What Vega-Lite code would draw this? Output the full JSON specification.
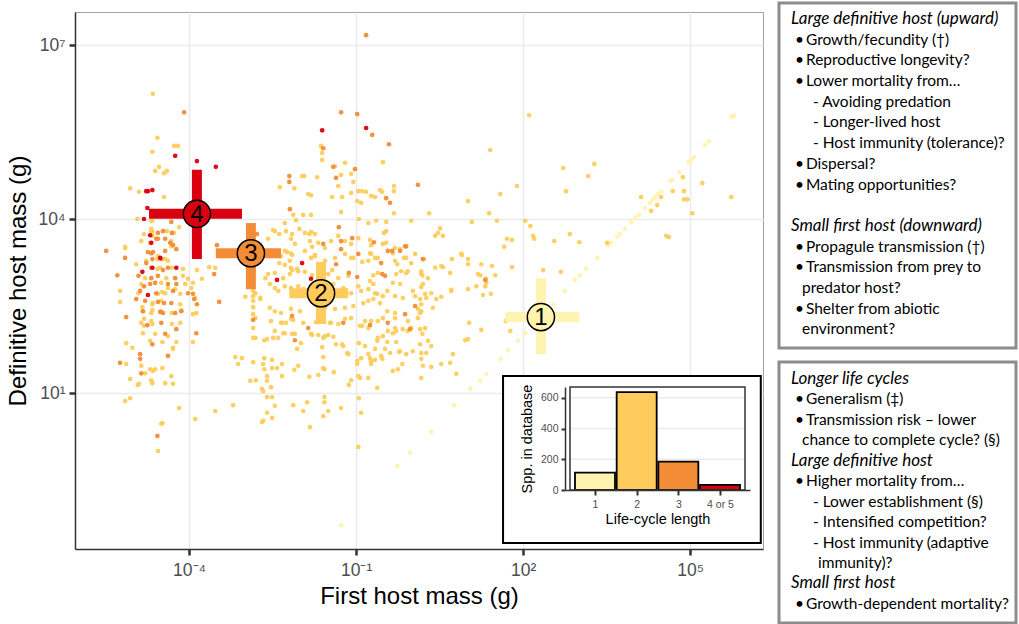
{
"$schema":"https://vega.github.io/schema/vega-lite/v6.json",
"padding":{"left":5,"top":1,"right":0,"bottom":0},
"background":"white",
"config":{"font":"Liberation Sans","view":{"stroke":null},
"axis":{"labelFont":"Liberation Sans","titleFont":"Liberation Sans","titleFontWeight":"normal","labelColor":"#4d4d4d","titleColor":"#000000","domainColor":"#333333","tickColor":"#333333","gridColor":"#ebebeb"}},
"datasets":{
"crosses":[
{"cycle":"1","num":"1","cx":2.32,"xlo":1.68,"xhi":3.01,"cy":2.31,"ylo":1.67,"yhi":2.98},
{"cycle":"2","num":"2","cx":-1.63,"xlo":-2.2,"xhi":-1.14,"cy":2.72,"ylo":2.19,"yhi":3.26},
{"cycle":"3","num":"3","cx":-2.89,"xlo":-3.52,"xhi":-2.35,"cy":3.41,"ylo":2.79,"yhi":3.93},
{"cycle":"4 or 5","num":"4","cx":-3.86,"xlo":-4.72,"xhi":-3.05,"cy":4.09,"ylo":3.31,"yhi":4.85}],
"inset_area":[{"x1":1.64,"x2":6.27,"y1":-1.586,"y2":1.293}],
"bars":[{"cycle":"1","pos":1,"n":113},{"cycle":"2","pos":2,"n":637},{"cycle":"3","pos":3,"n":184},{"cycle":"4 or 5","pos":4,"n":33}],
"igrid":[{"g":200},{"g":400},{"g":600}],
"box1":[
{"line":0,"indent":-0.1,"kind":"h","text":"Large definitive host (upward)"},
{"line":1,"indent":0.3,"kind":"b","text":"•\u2009Growth/fecundity (†)"},
{"line":2,"indent":0.3,"kind":"b","text":"•\u2009Reproductive longevity?"},
{"line":3,"indent":0.3,"kind":"b","text":"•\u2009Lower mortality from…"},
{"line":4,"indent":2.1,"kind":"d","text":"- Avoiding predation"},
{"line":5,"indent":2.1,"kind":"d","text":"- Longer-lived host"},
{"line":6,"indent":2.1,"kind":"d","text":"- Host immunity (tolerance)?"},
{"line":7,"indent":0.3,"kind":"b","text":"•\u2009Dispersal?"},
{"line":8,"indent":0.3,"kind":"b","text":"•\u2009Mating opportunities?"},
{"line":10,"indent":-0.1,"kind":"h","text":"Small first host (downward)"},
{"line":11,"indent":0.3,"kind":"b","text":"•\u2009Propagule transmission (†)"},
{"line":12,"indent":0.3,"kind":"b","text":"•\u2009Transmission from prey to"},
{"line":13,"indent":1.0,"kind":"c","text":"predator host?"},
{"line":14,"indent":0.3,"kind":"b","text":"•\u2009Shelter from abiotic"},
{"line":15,"indent":1.0,"kind":"c","text":"environment?"}],
"box2":[
{"line":0,"indent":-0.1,"kind":"h","text":"Longer life cycles"},
{"line":1,"indent":0.3,"kind":"b","text":"•\u2009Generalism (‡)"},
{"line":2,"indent":0.3,"kind":"b","text":"•\u2009Transmission risk – lower"},
{"line":3,"indent":1.0,"kind":"c","text":"chance to complete cycle? (§)"},
{"line":4,"indent":-0.1,"kind":"h","text":"Large definitive host"},
{"line":5,"indent":0.3,"kind":"b","text":"•\u2009Higher mortality from…"},
{"line":6,"indent":2.1,"kind":"d","text":"- Lower establishment (§)"},
{"line":7,"indent":2.1,"kind":"d","text":"- Intensified competition?"},
{"line":8,"indent":2.1,"kind":"d","text":"- Host immunity (adaptive"},
{"line":9,"indent":2.6,"kind":"c","text":"immunity)?"},
{"line":10,"indent":-0.1,"kind":"h","text":"Small first host"},
{"line":11,"indent":0.3,"kind":"b","text":"•\u2009Growth-dependent mortality?"}],
"points":[
{"first":2.93,"def":2.95,"cycle":"1"},{"first":3.02,"def":3.03,"cycle":"1"},{"first":3.13,"def":3.14,"cycle":"1"},{"first":3.33,"def":3.33,"cycle":"1"},{"first":3.53,"def":3.55,"cycle":"1"},{"first":3.58,"def":3.59,"cycle":"1"},{"first":3.69,"def":3.69,"cycle":"1"},{"first":3.74,"def":3.74,"cycle":"1"},{"first":3.83,"def":3.83,"cycle":"1"},{"first":3.94,"def":3.95,"cycle":"1"},{"first":4.01,"def":4.02,"cycle":"1"},{"first":4.08,"def":4.07,"cycle":"1"},{"first":4.19,"def":4.19,"cycle":"1"},{"first":4.28,"def":4.28,"cycle":"1"},{"first":4.33,"def":4.34,"cycle":"1"},{"first":4.37,"def":4.38,"cycle":"1"},{"first":4.42,"def":4.43,"cycle":"1"},{"first":4.48,"def":4.47,"cycle":"1"},{"first":4.64,"def":4.66,"cycle":"1"},{"first":4.68,"def":4.67,"cycle":"1"},{"first":4.8,"def":4.81,"cycle":"1"},{"first":4.98,"def":4.98,"cycle":"1"},{"first":5.02,"def":5.03,"cycle":"1"},{"first":5.07,"def":5.07,"cycle":"1"},{"first":5.27,"def":5.28,"cycle":"1"},{"first":5.34,"def":5.34,"cycle":"1"},{"first":5.74,"def":5.76,"cycle":"1"},{"first":5.79,"def":5.78,"cycle":"1"},{"first":2.75,"def":2.76,"cycle":"1"},{"first":2.54,"def":2.53,"cycle":"1"},{"first":2.04,"def":2.03,"cycle":"1"},{"first":1.91,"def":1.9,"cycle":"1"},{"first":1.73,"def":1.74,"cycle":"1"},{"first":1.6,"def":1.59,"cycle":"1"},{"first":1.34,"def":1.33,"cycle":"1"},{"first":1.23,"def":1.21,"cycle":"1"},{"first":1.05,"def":1.07,"cycle":"1"},{"first":0.76,"def":0.79,"cycle":"1"},{"first":0.35,"def":0.33,"cycle":"1"},{"first":-0.03,"def":-0.03,"cycle":"1"},{"first":-0.26,"def":-0.26,"cycle":"1"},{"first":-1.27,"def":-1.28,"cycle":"1"},
{"first":-4.65,"def":6.16,"cycle":"2"},{"first":-4.57,"def":5.4,"cycle":"2"},{"first":-4.27,"def":5.26,"cycle":"2"},{"first":-4.2,"def":5.26,"cycle":"2"},{"first":-4.66,"def":5.16,"cycle":"2"},{"first":-1.61,"def":5.14,"cycle":"2"},{"first":-1.61,"def":5.02,"cycle":"2"},{"first":-4.54,"def":4.9,"cycle":"2"},{"first":-4.61,"def":4.83,"cycle":"2"},{"first":-4.45,"def":4.79,"cycle":"2"},{"first":-4.4,"def":4.83,"cycle":"2"},{"first":-5.06,"def":4.53,"cycle":"2"},{"first":-4.9,"def":4.47,"cycle":"2"},{"first":-4.45,"def":4.38,"cycle":"2"},{"first":-4.93,"def":4.0,"cycle":"2"},{"first":-4.66,"def":3.97,"cycle":"2"},{"first":-1.97,"def":4.74,"cycle":"2"},{"first":-1.93,"def":4.74,"cycle":"2"},{"first":-1.7,"def":4.72,"cycle":"2"},{"first":-2.37,"def":4.55,"cycle":"2"},{"first":-2.11,"def":4.53,"cycle":"2"},{"first":-1.86,"def":4.43,"cycle":"2"},{"first":-1.81,"def":4.41,"cycle":"2"},{"first":-1.27,"def":4.76,"cycle":"2"},{"first":-1.2,"def":4.97,"cycle":"2"},{"first":-1.05,"def":4.64,"cycle":"2"},{"first":-1.32,"def":4.57,"cycle":"2"},{"first":-1.43,"def":4.38,"cycle":"2"},{"first":-1.25,"def":4.38,"cycle":"2"},{"first":-1.09,"def":4.45,"cycle":"2"},{"first":-0.96,"def":4.48,"cycle":"2"},{"first":-0.89,"def":4.48,"cycle":"2"},{"first":-0.82,"def":4.47,"cycle":"2"},{"first":-0.98,"def":4.31,"cycle":"2"},{"first":-0.91,"def":4.28,"cycle":"2"},{"first":-0.73,"def":4.4,"cycle":"2"},{"first":-0.66,"def":4.38,"cycle":"2"},{"first":-0.57,"def":4.5,"cycle":"2"},{"first":-0.53,"def":4.47,"cycle":"2"},{"first":-0.52,"def":4.98,"cycle":"2"},{"first":-0.32,"def":4.57,"cycle":"2"},{"first":-0.32,"def":4.48,"cycle":"2"},{"first":-0.32,"def":4.1,"cycle":"2"},{"first":-0.01,"def":3.97,"cycle":"2"},{"first":-1.27,"def":4.12,"cycle":"2"},{"first":-2.13,"def":4.07,"cycle":"2"},{"first":-1.95,"def":4.07,"cycle":"2"},{"first":-1.81,"def":4.07,"cycle":"2"},{"first":-2.08,"def":3.98,"cycle":"2"},{"first":-0.95,"def":4.0,"cycle":"2"},{"first":-0.46,"def":3.95,"cycle":"2"},{"first":-2.46,"def":3.79,"cycle":"2"},{"first":-2.38,"def":3.74,"cycle":"2"},{"first":-2.15,"def":3.74,"cycle":"2"},{"first":-2.02,"def":3.83,"cycle":"2"},{"first":-1.84,"def":3.74,"cycle":"2"},{"first":-1.81,"def":3.78,"cycle":"2"},{"first":-0.5,"def":3.76,"cycle":"2"},{"first":-0.75,"def":3.64,"cycle":"2"},{"first":-0.73,"def":3.55,"cycle":"2"},{"first":-0.46,"def":3.59,"cycle":"2"},{"first":-2.58,"def":3.66,"cycle":"2"},{"first":-1.79,"def":3.52,"cycle":"2"},{"first":-2.24,"def":3.43,"cycle":"2"},{"first":-2.15,"def":3.38,"cycle":"2"},{"first":-0.75,"def":3.41,"cycle":"2"},{"first":-0.61,"def":3.33,"cycle":"2"},{"first":-0.3,"def":3.28,"cycle":"2"},{"first":-0.14,"def":3.33,"cycle":"2"},{"first":-0.07,"def":3.1,"cycle":"2"},{"first":-1.05,"def":3.33,"cycle":"2"},{"first":-0.89,"def":3.26,"cycle":"2"},{"first":-1.81,"def":3.33,"cycle":"2"},{"first":-1.74,"def":3.38,"cycle":"2"},{"first":-2.38,"def":3.24,"cycle":"2"},{"first":-2.28,"def":3.21,"cycle":"2"},{"first":-2.15,"def":3.12,"cycle":"2"},{"first":-2.06,"def":3.14,"cycle":"2"},{"first":-1.92,"def":3.09,"cycle":"2"},{"first":-1.79,"def":3.03,"cycle":"2"},{"first":-1.59,"def":3.14,"cycle":"2"},{"first":-1.43,"def":3.12,"cycle":"2"},{"first":-0.69,"def":3.03,"cycle":"2"},{"first":-5.15,"def":3.52,"cycle":"2"},{"first":-4.86,"def":3.62,"cycle":"2"},{"first":-4.81,"def":3.74,"cycle":"2"},{"first":-4.68,"def":3.83,"cycle":"2"},{"first":-4.66,"def":3.78,"cycle":"2"},{"first":-4.66,"def":3.71,"cycle":"2"},{"first":-4.4,"def":3.79,"cycle":"2"},{"first":-4.27,"def":3.76,"cycle":"2"},{"first":-4.18,"def":3.86,"cycle":"2"},{"first":-4.57,"def":3.31,"cycle":"2"},{"first":-4.43,"def":3.31,"cycle":"2"},{"first":-4.57,"def":3.14,"cycle":"2"},{"first":-4.31,"def":3.16,"cycle":"2"},{"first":-3.91,"def":3.79,"cycle":"2"},{"first":-3.86,"def":3.12,"cycle":"2"},{"first":-3.77,"def":2.97,"cycle":"2"},{"first":-3.64,"def":3.17,"cycle":"2"},
{"first":2.11,"def":5.79,"cycle":"2"},{"first":1.41,"def":5.19,"cycle":"2"},{"first":2.72,"def":4.88,"cycle":"2"},{"first":3.28,"def":4.95,"cycle":"2"},{"first":3.17,"def":4.74,"cycle":"2"},{"first":2.77,"def":4.48,"cycle":"2"},{"first":1.89,"def":4.57,"cycle":"2"},{"first":1.59,"def":4.43,"cycle":"2"},{"first":1.01,"def":4.31,"cycle":"2"},{"first":0.31,"def":4.1,"cycle":"2"},{"first":1.39,"def":4.1,"cycle":"2"},{"first":1.08,"def":3.95,"cycle":"2"},{"first":1.53,"def":3.97,"cycle":"2"},{"first":2.04,"def":3.97,"cycle":"2"},{"first":2.13,"def":3.88,"cycle":"2"},{"first":0.51,"def":3.84,"cycle":"2"},{"first":0.47,"def":3.76,"cycle":"2"},{"first":0.42,"def":3.71,"cycle":"2"},{"first":0.56,"def":3.71,"cycle":"2"},{"first":2.18,"def":3.71,"cycle":"2"},{"first":2.2,"def":3.66,"cycle":"2"},{"first":1.71,"def":3.66,"cycle":"2"},{"first":1.8,"def":3.64,"cycle":"2"},{"first":1.66,"def":3.52,"cycle":"2"},{"first":2.56,"def":3.62,"cycle":"2"},{"first":2.84,"def":3.74,"cycle":"2"},{"first":3.01,"def":3.6,"cycle":"2"},{"first":3.51,"def":3.59,"cycle":"2"},{"first":4.12,"def":4.38,"cycle":"2"},{"first":4.3,"def":4.14,"cycle":"2"},{"first":4.41,"def":4.24,"cycle":"2"},{"first":4.48,"def":4.38,"cycle":"2"},{"first":4.69,"def":4.48,"cycle":"2"},{"first":4.87,"def":4.72,"cycle":"2"},{"first":4.89,"def":4.48,"cycle":"2"},{"first":4.89,"def":4.34,"cycle":"2"},{"first":4.95,"def":4.34,"cycle":"2"},{"first":5.04,"def":4.1,"cycle":"2"},{"first":5.22,"def":4.62,"cycle":"2"},{"first":5.74,"def":4.38,"cycle":"2"},{"first":4.57,"def":3.71,"cycle":"2"},{"first":4.62,"def":3.69,"cycle":"2"},{"first":0.72,"def":3.31,"cycle":"2"},{"first":0.9,"def":3.38,"cycle":"2"},{"first":1.01,"def":3.31,"cycle":"2"},{"first":1.01,"def":3.22,"cycle":"2"},{"first":0.56,"def":3.17,"cycle":"2"},{"first":0.69,"def":3.07,"cycle":"2"},{"first":1.44,"def":3.19,"cycle":"2"},{"first":1.8,"def":3.17,"cycle":"2"},{"first":1.5,"def":3.03,"cycle":"2"},{"first":1.23,"def":3.03,"cycle":"2"},{"first":2.36,"def":3.12,"cycle":"2"},{"first":2.68,"def":3.09,"cycle":"2"},{"first":0.19,"def":3.03,"cycle":"2"},
{"first":-5.24,"def":2.76,"cycle":"2"},{"first":-5.24,"def":2.57,"cycle":"2"},{"first":-5.13,"def":1.86,"cycle":"2"},{"first":-5.13,"def":1.5,"cycle":"2"},{"first":-5.06,"def":1.24,"cycle":"2"},{"first":-5.02,"def":1.78,"cycle":"2"},{"first":-4.84,"def":2.48,"cycle":"2"},{"first":-4.83,"def":2.41,"cycle":"2"},{"first":-4.81,"def":2.28,"cycle":"2"},{"first":-4.81,"def":2.16,"cycle":"2"},{"first":-4.86,"def":1.47,"cycle":"2"},{"first":-4.9,"def":1.16,"cycle":"2"},{"first":-4.92,"def":1.14,"cycle":"2"},{"first":-4.79,"def":1.34,"cycle":"2"},{"first":-4.7,"def":1.9,"cycle":"2"},{"first":-4.7,"def":1.41,"cycle":"2"},{"first":-4.65,"def":1.38,"cycle":"2"},{"first":-4.61,"def":1.41,"cycle":"2"},{"first":-4.68,"def":1.22,"cycle":"2"},{"first":-4.66,"def":1.17,"cycle":"2"},{"first":-4.66,"def":2.53,"cycle":"2"},{"first":-4.66,"def":2.43,"cycle":"2"},{"first":-4.68,"def":2.24,"cycle":"2"},{"first":-4.66,"def":2.19,"cycle":"2"},{"first":-4.56,"def":2.71,"cycle":"2"},{"first":-4.48,"def":2.74,"cycle":"2"},{"first":-4.38,"def":2.81,"cycle":"2"},{"first":-4.25,"def":2.79,"cycle":"2"},{"first":-4.31,"def":2.38,"cycle":"2"},{"first":-4.14,"def":2.43,"cycle":"2"},{"first":-4.31,"def":2.19,"cycle":"2"},{"first":-4.38,"def":1.98,"cycle":"2"},{"first":-4.23,"def":1.88,"cycle":"2"},{"first":-4.48,"def":1.88,"cycle":"2"},{"first":-4.29,"def":1.78,"cycle":"2"},{"first":-4.29,"def":1.76,"cycle":"2"},{"first":-4.48,"def":1.43,"cycle":"2"},{"first":-4.32,"def":1.29,"cycle":"2"},{"first":-4.43,"def":1.17,"cycle":"2"},{"first":-4.29,"def":1.16,"cycle":"2"},{"first":-5.15,"def":0.86,"cycle":"2"},{"first":-5.06,"def":0.91,"cycle":"2"},{"first":-4.18,"def":0.74,"cycle":"2"},{"first":-4.48,"def":0.48,"cycle":"2"},{"first":-4.5,"def":0.47,"cycle":"2"},{"first":-4.56,"def":0.0,"cycle":"2"},{"first":-3.93,"def":1.88,"cycle":"2"},{"first":-3.89,"def":0.55,"cycle":"2"},{"first":-3.53,"def":0.69,"cycle":"2"},{"first":-3.21,"def":0.79,"cycle":"2"},{"first":-3.17,"def":1.62,"cycle":"2"},{"first":-3.05,"def":1.6,"cycle":"2"},{"first":-3.12,"def":1.5,"cycle":"2"},{"first":-2.99,"def":2.66,"cycle":"2"},{"first":-2.9,"def":1.21,"cycle":"2"},{"first":-2.8,"def":1.22,"cycle":"2"},{"first":-2.85,"def":2.76,"cycle":"2"},{"first":-2.85,"def":2.67,"cycle":"2"},{"first":-2.85,"def":2.59,"cycle":"2"},{"first":-2.85,"def":2.48,"cycle":"2"},{"first":-2.85,"def":2.36,"cycle":"2"},{"first":-2.85,"def":1.95,"cycle":"2"},{"first":-2.81,"def":1.95,"cycle":"2"},{"first":-2.85,"def":1.53,"cycle":"2"},{"first":-2.72,"def":2.62,"cycle":"2"},{"first":-2.65,"def":1.91,"cycle":"2"},{"first":-2.6,"def":1.93,"cycle":"2"},{"first":-2.65,"def":1.6,"cycle":"2"},{"first":-2.67,"def":1.5,"cycle":"2"},{"first":-2.65,"def":1.41,"cycle":"2"},{"first":-2.6,"def":1.29,"cycle":"2"},{"first":-2.6,"def":1.21,"cycle":"2"},{"first":-2.69,"def":1.07,"cycle":"2"},{"first":-2.67,"def":1.03,"cycle":"2"},{"first":-2.6,"def":0.93,"cycle":"2"},{"first":-2.6,"def":0.66,"cycle":"2"},{"first":-2.67,"def":0.52,"cycle":"2"},{"first":-2.69,"def":0.5,"cycle":"2"},{"first":-2.51,"def":0.57,"cycle":"2"},{"first":-2.51,"def":0.93,"cycle":"2"},{"first":-2.46,"def":0.78,"cycle":"2"},{"first":-2.53,"def":1.1,"cycle":"2"},{"first":-2.51,"def":1.57,"cycle":"2"},{"first":-2.51,"def":1.43,"cycle":"2"},{"first":-2.42,"def":1.43,"cycle":"2"},{"first":-2.33,"def":1.5,"cycle":"2"},{"first":-2.33,"def":1.29,"cycle":"2"},{"first":-2.49,"def":1.95,"cycle":"2"},{"first":-2.4,"def":1.95,"cycle":"2"},{"first":-2.31,"def":2.03,"cycle":"2"},{"first":-2.33,"def":2.21,"cycle":"2"},{"first":-2.26,"def":2.21,"cycle":"2"},{"first":-2.13,"def":2.26,"cycle":"2"},{"first":-2.15,"def":2.02,"cycle":"2"},{"first":-2.06,"def":1.76,"cycle":"2"},{"first":-1.99,"def":1.86,"cycle":"2"},{"first":-2.11,"def":1.4,"cycle":"2"},{"first":-2.04,"def":1.47,"cycle":"2"},{"first":-2.13,"def":0.79,"cycle":"2"},{"first":-1.95,"def":0.69,"cycle":"2"},{"first":-1.88,"def":0.84,"cycle":"2"},{"first":-1.83,"def":0.41,"cycle":"2"},{"first":-1.84,"def":1.28,"cycle":"2"},{"first":-1.79,"def":2.0,"cycle":"2"},{"first":-1.68,"def":2.0,"cycle":"2"},{"first":-1.72,"def":2.22,"cycle":"2"},{"first":-1.68,"def":1.31,"cycle":"2"},{"first":-1.59,"def":1.95,"cycle":"2"},{"first":-1.61,"def":1.79,"cycle":"2"},{"first":-1.59,"def":1.62,"cycle":"2"},{"first":-1.59,"def":1.43,"cycle":"2"},{"first":-1.57,"def":1.41,"cycle":"2"},{"first":-1.57,"def":0.93,"cycle":"2"},{"first":-1.57,"def":0.84,"cycle":"2"},{"first":-1.59,"def":0.6,"cycle":"2"},{"first":-1.5,"def":0.69,"cycle":"2"},{"first":-1.5,"def":2.0,"cycle":"2"},{"first":-1.41,"def":1.97,"cycle":"2"},{"first":-1.4,"def":1.36,"cycle":"2"},{"first":-1.47,"def":2.21,"cycle":"2"},{"first":-1.36,"def":1.84,"cycle":"2"},{"first":-1.25,"def":1.84,"cycle":"2"},{"first":-1.23,"def":1.81,"cycle":"2"},{"first":-1.27,"def":0.74,"cycle":"2"},{"first":-1.2,"def":2.28,"cycle":"2"},{"first":-1.16,"def":1.69,"cycle":"2"},{"first":-1.14,"def":1.67,"cycle":"2"},{"first":-1.13,"def":1.14,"cycle":"2"},{"first":-1.09,"def":1.22,"cycle":"2"},{"first":-0.98,"def":1.55,"cycle":"2"},{"first":-0.98,"def":1.5,"cycle":"2"},{"first":-0.95,"def":1.86,"cycle":"2"},{"first":-0.96,"def":1.29,"cycle":"2"},{"first":-0.93,"def":1.26,"cycle":"2"},{"first":-0.95,"def":0.91,"cycle":"2"},{"first":-0.91,"def":0.66,"cycle":"2"},{"first":-0.96,"def":0.07,"cycle":"2"},{"first":-0.93,"def":2.16,"cycle":"2"},{"first":-0.89,"def":2.16,"cycle":"2"},{"first":-0.84,"def":1.81,"cycle":"2"},{"first":-0.75,"def":1.6,"cycle":"2"},{"first":-0.73,"def":1.5,"cycle":"2"},{"first":-0.78,"def":1.26,"cycle":"2"},{"first":-0.62,"def":1.09,"cycle":"2"},{"first":-0.66,"def":1.57,"cycle":"2"},{"first":-0.53,"def":1.59,"cycle":"2"},{"first":-0.39,"def":1.69,"cycle":"2"},{"first":-0.34,"def":1.38,"cycle":"2"},{"first":-0.25,"def":1.41,"cycle":"2"},{"first":-0.17,"def":1.5,"cycle":"2"},{"first":-0.23,"def":1.71,"cycle":"2"},{"first":-0.61,"def":1.95,"cycle":"2"},{"first":-0.62,"def":1.9,"cycle":"2"},{"first":-0.44,"def":1.88,"cycle":"2"},{"first":-0.28,"def":1.88,"cycle":"2"},{"first":-0.3,"def":2.12,"cycle":"2"},{"first":-0.34,"def":2.03,"cycle":"2"},{"first":-0.16,"def":2.1,"cycle":"2"},{"first":-0.07,"def":2.07,"cycle":"2"},
{"first":0.17,"def":2.83,"cycle":"2"},{"first":0.26,"def":2.64,"cycle":"2"},{"first":0.44,"def":2.62,"cycle":"2"},{"first":0.53,"def":2.66,"cycle":"2"},{"first":0.71,"def":2.78,"cycle":"2"},{"first":1.01,"def":2.79,"cycle":"2"},{"first":1.16,"def":2.84,"cycle":"2"},{"first":1.28,"def":2.69,"cycle":"2"},{"first":1.34,"def":2.9,"cycle":"2"},{"first":1.42,"def":2.71,"cycle":"2"},{"first":0.17,"def":2.53,"cycle":"2"},{"first":0.15,"def":2.38,"cycle":"2"},{"first":0.19,"def":2.02,"cycle":"2"},{"first":1.03,"def":2.21,"cycle":"2"},{"first":1.25,"def":2.09,"cycle":"2"},{"first":0.96,"def":1.91,"cycle":"2"},{"first":0.35,"def":1.81,"cycle":"2"},{"first":0.17,"def":1.69,"cycle":"2"},{"first":0.26,"def":1.69,"cycle":"2"},{"first":0.17,"def":1.59,"cycle":"2"},{"first":0.2,"def":1.47,"cycle":"2"},{"first":0.35,"def":1.45,"cycle":"2"},{"first":0.8,"def":1.33,"cycle":"2"},{"first":0.17,"def":1.26,"cycle":"2"},{"first":1.69,"def":2.24,"cycle":"2"},{"first":1.77,"def":2.07,"cycle":"2"},{"first":0.11,"def":2.45,"cycle":"2"},{"first":0.15,"def":2.1,"cycle":"2"},
{"first":-5.15,"def":3.5,"cycle":"2"},{"first":-4.95,"def":3.22,"cycle":"2"},{"first":-4.68,"def":3.97,"cycle":"2"},{"first":-4.68,"def":3.79,"cycle":"2"},{"first":-4.7,"def":3.59,"cycle":"2"},{"first":-4.32,"def":3.62,"cycle":"2"},{"first":-4.56,"def":3.36,"cycle":"2"},{"first":-4.32,"def":3.53,"cycle":"2"},{"first":-4.77,"def":3.28,"cycle":"2"},{"first":-4.38,"def":3.28,"cycle":"2"},{"first":-4.52,"def":3.16,"cycle":"2"},{"first":-4.11,"def":3.14,"cycle":"2"},{"first":-4.79,"def":2.98,"cycle":"2"},{"first":-4.41,"def":2.98,"cycle":"2"},{"first":-4.11,"def":3.02,"cycle":"2"},{"first":-4.02,"def":2.97,"cycle":"2"},{"first":-4.86,"def":2.88,"cycle":"2"},{"first":-4.5,"def":2.9,"cycle":"2"},{"first":-4.07,"def":2.88,"cycle":"2"},{"first":-3.93,"def":2.9,"cycle":"2"},{"first":-4.91,"def":2.72,"cycle":"2"},{"first":-4.43,"def":2.72,"cycle":"2"},{"first":-4.16,"def":2.71,"cycle":"2"},{"first":-4.65,"def":2.55,"cycle":"2"},{"first":-4.5,"def":2.59,"cycle":"2"},{"first":-4.16,"def":2.53,"cycle":"2"},{"first":-4.68,"def":2.38,"cycle":"2"},{"first":-4.5,"def":2.41,"cycle":"2"},{"first":-3.87,"def":2.38,"cycle":"2"},{"first":-4.86,"def":2.21,"cycle":"2"},{"first":-4.16,"def":2.21,"cycle":"2"},{"first":-4.83,"def":2.03,"cycle":"2"},{"first":-4.61,"def":2.02,"cycle":"2"},
{"first":-2.49,"def":3.81,"cycle":"2"},{"first":-2.81,"def":2.72,"cycle":"2"},{"first":-2.72,"def":2.64,"cycle":"2"},{"first":-2.63,"def":2.98,"cycle":"2"},{"first":-2.55,"def":2.88,"cycle":"2"},{"first":-2.46,"def":2.81,"cycle":"2"},{"first":-2.4,"def":2.76,"cycle":"2"},{"first":-2.28,"def":2.84,"cycle":"2"},{"first":-2.17,"def":2.81,"cycle":"2"},{"first":-2.04,"def":2.84,"cycle":"2"},{"first":-1.95,"def":2.79,"cycle":"2"},{"first":-2.58,"def":3.05,"cycle":"2"},{"first":-2.46,"def":3.07,"cycle":"2"},{"first":-2.31,"def":2.98,"cycle":"2"},{"first":-2.19,"def":3.05,"cycle":"2"},{"first":-2.19,"def":3.28,"cycle":"2"},{"first":-2.17,"def":3.16,"cycle":"2"},{"first":-2.04,"def":3.1,"cycle":"2"},{"first":-2.35,"def":3.36,"cycle":"2"},{"first":-2.28,"def":3.45,"cycle":"2"},{"first":-2.17,"def":3.41,"cycle":"2"},{"first":-2.55,"def":2.47,"cycle":"2"},{"first":-2.46,"def":2.41,"cycle":"2"},{"first":-2.35,"def":2.38,"cycle":"2"},{"first":-2.17,"def":2.45,"cycle":"2"},{"first":-2.01,"def":2.41,"cycle":"2"},{"first":-2.81,"def":2.29,"cycle":"2"},{"first":-2.85,"def":2.12,"cycle":"2"},{"first":-2.53,"def":2.24,"cycle":"2"},{"first":-2.35,"def":2.21,"cycle":"2"},{"first":-2.17,"def":2.28,"cycle":"2"},{"first":-1.95,"def":2.21,"cycle":"2"},{"first":-2.46,"def":2.07,"cycle":"2"},{"first":-2.28,"def":2.03,"cycle":"2"},{"first":-2.1,"def":2.02,"cycle":"2"},{"first":-1.81,"def":2.02,"cycle":"2"},{"first":-1.56,"def":1.98,"cycle":"2"},{"first":-1.45,"def":2.21,"cycle":"2"},{"first":-1.32,"def":2.19,"cycle":"2"},{"first":-1.09,"def":2.29,"cycle":"2"},{"first":-1.63,"def":5.26,"cycle":"2"},{"first":-1.38,"def":4.91,"cycle":"2"},{"first":-1.09,"def":4.78,"cycle":"2"},{"first":-2.28,"def":3.93,"cycle":"2"},{"first":-2.26,"def":3.79,"cycle":"2"},{"first":-2.17,"def":3.66,"cycle":"2"},{"first":-2.1,"def":3.57,"cycle":"2"},{"first":-1.92,"def":3.76,"cycle":"2"},{"first":-1.83,"def":3.62,"cycle":"2"},{"first":-1.74,"def":3.74,"cycle":"2"},{"first":-1.68,"def":3.59,"cycle":"2"},{"first":-1.56,"def":3.5,"cycle":"2"},{"first":-1.45,"def":3.62,"cycle":"2"},{"first":-1.32,"def":3.71,"cycle":"2"},{"first":-1.2,"def":3.62,"cycle":"2"},{"first":-1.09,"def":3.57,"cycle":"2"},{"first":-0.96,"def":3.67,"cycle":"2"},{"first":-1.92,"def":3.45,"cycle":"2"},{"first":-1.74,"def":3.36,"cycle":"2"},{"first":-1.56,"def":3.28,"cycle":"2"},{"first":-1.38,"def":3.33,"cycle":"2"},{"first":-1.2,"def":3.4,"cycle":"2"},{"first":-1.09,"def":3.33,"cycle":"2"},{"first":-1.68,"def":3.1,"cycle":"2"},{"first":-1.5,"def":3.05,"cycle":"2"},{"first":-1.32,"def":2.98,"cycle":"2"},{"first":-1.14,"def":3.02,"cycle":"2"},{"first":-1.41,"def":2.88,"cycle":"2"},{"first":-1.23,"def":2.81,"cycle":"2"},{"first":-1.09,"def":2.72,"cycle":"2"},{"first":-1.56,"def":2.47,"cycle":"2"},{"first":-1.38,"def":2.45,"cycle":"2"},{"first":-1.2,"def":2.47,"cycle":"2"},{"first":-1.05,"def":2.5,"cycle":"2"},{"first":-3.96,"def":2.81,"cycle":"2"},{"first":-3.89,"def":2.64,"cycle":"2"},{"first":-3.93,"def":2.36,"cycle":"2"},{"first":-3.53,"def":3.16,"cycle":"2"},
{"first":-0.78,"def":3.93,"cycle":"2"},{"first":-0.64,"def":3.97,"cycle":"2"},{"first":-0.46,"def":3.79,"cycle":"2"},{"first":-0.52,"def":3.57,"cycle":"2"},{"first":-0.73,"def":3.4,"cycle":"2"},{"first":-0.78,"def":3.28,"cycle":"2"},{"first":-0.66,"def":3.33,"cycle":"2"},{"first":-0.34,"def":3.41,"cycle":"2"},{"first":-0.3,"def":3.5,"cycle":"2"},{"first":-0.21,"def":3.48,"cycle":"2"},{"first":-0.1,"def":3.33,"cycle":"2"},{"first":-0.26,"def":3.22,"cycle":"2"},{"first":-0.19,"def":3.1,"cycle":"2"},{"first":-0.28,"def":3.05,"cycle":"2"},{"first":-0.1,"def":3.07,"cycle":"2"},{"first":-0.61,"def":3.07,"cycle":"2"},{"first":-0.34,"def":2.9,"cycle":"2"},{"first":-0.21,"def":2.88,"cycle":"2"},{"first":-0.75,"def":2.93,"cycle":"2"},{"first":-0.91,"def":2.76,"cycle":"2"},{"first":-0.78,"def":2.79,"cycle":"2"},{"first":-0.66,"def":2.72,"cycle":"2"},{"first":-0.87,"def":2.55,"cycle":"2"},{"first":-0.69,"def":2.62,"cycle":"2"},{"first":-0.57,"def":2.55,"cycle":"2"},{"first":-0.52,"def":2.67,"cycle":"2"},{"first":-0.3,"def":2.67,"cycle":"2"},{"first":-0.16,"def":2.64,"cycle":"2"},{"first":0.02,"def":2.76,"cycle":"2"},{"first":0.06,"def":2.67,"cycle":"2"},{"first":0.15,"def":2.62,"cycle":"2"},{"first":0.24,"def":2.71,"cycle":"2"},{"first":0.35,"def":2.72,"cycle":"2"},{"first":0.2,"def":2.88,"cycle":"2"},{"first":0.17,"def":3.05,"cycle":"2"},{"first":0.22,"def":3.31,"cycle":"2"},{"first":0.06,"def":3.4,"cycle":"2"},{"first":-0.01,"def":3.24,"cycle":"2"},{"first":0.17,"def":3.1,"cycle":"2"},{"first":0.29,"def":2.98,"cycle":"2"},{"first":0.42,"def":3.16,"cycle":"2"},{"first":0.53,"def":3.19,"cycle":"2"},{"first":0.89,"def":3.4,"cycle":"2"},{"first":1.19,"def":3.05,"cycle":"2"},{"first":1.33,"def":2.97,"cycle":"2"},{"first":1.32,"def":2.84,"cycle":"2"},{"first":0.71,"def":2.76,"cycle":"2"},{"first":0.38,"def":2.47,"cycle":"2"},{"first":0.17,"def":2.41,"cycle":"2"},{"first":0.11,"def":2.29,"cycle":"2"},{"first":-0.01,"def":2.12,"cycle":"2"},{"first":-0.28,"def":2.07,"cycle":"2"},{"first":-0.43,"def":2.07,"cycle":"2"},{"first":-0.52,"def":1.98,"cycle":"2"},{"first":-0.73,"def":2.24,"cycle":"2"},{"first":-0.84,"def":2.24,"cycle":"2"},{"first":-0.78,"def":2.12,"cycle":"2"},{"first":-0.61,"def":2.24,"cycle":"2"},{"first":-0.52,"def":2.29,"cycle":"2"},{"first":-0.3,"def":2.29,"cycle":"2"},{"first":-0.07,"def":2.24,"cycle":"2"},{"first":0.24,"def":2.12,"cycle":"2"},{"first":0.29,"def":1.9,"cycle":"2"},{"first":0.15,"def":1.84,"cycle":"2"},{"first":0.02,"def":1.72,"cycle":"2"},{"first":-0.1,"def":1.67,"cycle":"2"},{"first":-0.21,"def":1.72,"cycle":"2"},{"first":-0.48,"def":1.76,"cycle":"2"},{"first":-0.66,"def":1.76,"cycle":"2"},{"first":-0.78,"def":1.67,"cycle":"2"},{"first":-0.91,"def":1.6,"cycle":"2"},{"first":-0.73,"def":1.55,"cycle":"2"},{"first":-0.55,"def":1.64,"cycle":"2"},{"first":0.53,"def":1.5,"cycle":"2"},{"first":0.69,"def":1.52,"cycle":"2"},{"first":0.74,"def":1.67,"cycle":"2"},{"first":1.01,"def":1.93,"cycle":"2"},{"first":1.25,"def":3.22,"cycle":"2"},{"first":-0.96,"def":2.84,"cycle":"2"},{"first":-0.69,"def":2.88,"cycle":"2"},{"first":-0.44,"def":2.76,"cycle":"2"},{"first":-0.62,"def":2.71,"cycle":"2"},{"first":-0.44,"def":2.41,"cycle":"2"},{"first":-0.3,"def":2.38,"cycle":"2"},{"first":-0.78,"def":2.59,"cycle":"2"},
{"first":-0.82,"def":7.17,"cycle":"3"},{"first":-4.09,"def":5.84,"cycle":"3"},{"first":-1.27,"def":5.84,"cycle":"3"},{"first":-0.98,"def":5.81,"cycle":"3"},{"first":-0.71,"def":5.45,"cycle":"3"},{"first":-0.41,"def":5.29,"cycle":"3"},{"first":-1.59,"def":5.22,"cycle":"3"},{"first":-2.2,"def":4.74,"cycle":"3"},{"first":-2.2,"def":4.64,"cycle":"3"},{"first":-1.41,"def":4.9,"cycle":"3"},{"first":-1.36,"def":4.71,"cycle":"3"},{"first":-1.02,"def":4.86,"cycle":"3"},{"first":-0.46,"def":4.36,"cycle":"3"},{"first":-0.39,"def":4.28,"cycle":"3"},{"first":0.11,"def":4.59,"cycle":"3"},{"first":-2.19,"def":4.17,"cycle":"3"},{"first":-1.31,"def":3.86,"cycle":"3"},{"first":-1.27,"def":3.62,"cycle":"3"},{"first":-1.27,"def":3.48,"cycle":"3"},{"first":-1.07,"def":3.67,"cycle":"3"},{"first":-0.68,"def":3.6,"cycle":"3"},{"first":-1.59,"def":3.57,"cycle":"3"},{"first":-2.78,"def":3.74,"cycle":"3"},{"first":-3.5,"def":3.55,"cycle":"3"},{"first":-0.96,"def":3.4,"cycle":"3"},{"first":-0.35,"def":3.45,"cycle":"3"},{"first":-0.21,"def":3.45,"cycle":"3"},{"first":-0.1,"def":3.53,"cycle":"3"},{"first":-1.36,"def":3.22,"cycle":"3"},{"first":-1.13,"def":3.07,"cycle":"3"},{"first":-0.98,"def":3.0,"cycle":"3"},{"first":-0.53,"def":3.05,"cycle":"3"},{"first":-5.49,"def":3.45,"cycle":"3"},{"first":-5.15,"def":3.33,"cycle":"3"},{"first":-5.29,"def":3.03,"cycle":"3"},{"first":-4.59,"def":3.66,"cycle":"3"},{"first":-4.56,"def":3.66,"cycle":"3"},{"first":-4.43,"def":3.66,"cycle":"3"},{"first":-4.31,"def":3.76,"cycle":"3"},{"first":-4.32,"def":3.95,"cycle":"3"},{"first":-4.34,"def":3.59,"cycle":"3"},{"first":-4.29,"def":3.55,"cycle":"3"},{"first":-4.74,"def":3.43,"cycle":"3"},{"first":-4.65,"def":3.43,"cycle":"3"},{"first":-4.66,"def":3.31,"cycle":"3"},{"first":-4.5,"def":3.31,"cycle":"3"},{"first":-4.77,"def":3.24,"cycle":"3"},{"first":-4.47,"def":3.12,"cycle":"3"},{"first":-3.55,"def":3.05,"cycle":"3"},{"first":0.2,"def":3.31,"cycle":"3"},{"first":1.32,"def":2.95,"cycle":"3"},{"first":-5.13,"def":2.31,"cycle":"3"},{"first":-5.24,"def":1.52,"cycle":"3"},{"first":-4.95,"def":2.62,"cycle":"3"},{"first":-4.88,"def":2.76,"cycle":"3"},{"first":-4.81,"def":2.84,"cycle":"3"},{"first":-4.75,"def":2.17,"cycle":"3"},{"first":-4.88,"def":1.67,"cycle":"3"},{"first":-4.88,"def":1.59,"cycle":"3"},{"first":-4.86,"def":1.34,"cycle":"3"},{"first":-4.66,"def":1.84,"cycle":"3"},{"first":-4.56,"def":2.57,"cycle":"3"},{"first":-4.45,"def":2.55,"cycle":"3"},{"first":-4.52,"def":2.4,"cycle":"3"},{"first":-4.47,"def":2.38,"cycle":"3"},{"first":-4.25,"def":2.38,"cycle":"3"},{"first":-4.23,"def":2.1,"cycle":"3"},{"first":-4.38,"def":1.64,"cycle":"3"},{"first":-4.57,"def":0.26,"cycle":"3"},{"first":-3.93,"def":2.71,"cycle":"3"},{"first":-3.91,"def":2.62,"cycle":"3"},{"first":-3.86,"def":2.53,"cycle":"3"},{"first":-3.87,"def":2.03,"cycle":"3"},{"first":-3.46,"def":2.57,"cycle":"3"},{"first":-2.85,"def":2.26,"cycle":"3"},{"first":-2.15,"def":2.33,"cycle":"3"},{"first":-2.1,"def":1.91,"cycle":"3"},{"first":-1.23,"def":2.21,"cycle":"3"},{"first":-0.75,"def":2.17,"cycle":"3"},{"first":-0.43,"def":2.21,"cycle":"3"},{"first":-0.03,"def":2.1,"cycle":"3"},{"first":0.06,"def":2.5,"cycle":"3"},{"first":-4.56,"def":3.76,"cycle":"3"},{"first":-4.47,"def":3.79,"cycle":"3"},{"first":-4.68,"def":3.41,"cycle":"3"},{"first":-4.43,"def":3.45,"cycle":"3"},{"first":-4.23,"def":3.48,"cycle":"3"},{"first":-4.68,"def":3.16,"cycle":"3"},{"first":-4.38,"def":3.16,"cycle":"3"},{"first":-4.91,"def":3.02,"cycle":"3"},{"first":-4.68,"def":2.98,"cycle":"3"},{"first":-4.56,"def":3.02,"cycle":"3"},{"first":-4.25,"def":2.98,"cycle":"3"},{"first":-4.7,"def":2.88,"cycle":"3"},{"first":-4.61,"def":2.9,"cycle":"3"},{"first":-4.38,"def":2.88,"cycle":"3"},{"first":-4.23,"def":2.88,"cycle":"3"},{"first":-4.59,"def":2.72,"cycle":"3"},{"first":-4.29,"def":2.76,"cycle":"3"},{"first":-4.02,"def":2.72,"cycle":"3"},{"first":-4.79,"def":2.59,"cycle":"3"},{"first":-4.32,"def":2.55,"cycle":"3"},{"first":-4.83,"def":2.41,"cycle":"3"},{"first":-4.14,"def":2.41,"cycle":"3"},{"first":-4.5,"def":2.21,"cycle":"3"},{"first":-4.43,"def":2.02,"cycle":"3"},{"first":-1.86,"def":2.12,"cycle":"3"},{"first":-1.68,"def":2.29,"cycle":"3"},{"first":-0.55,"def":3.24,"cycle":"3"},{"first":-0.43,"def":3.45,"cycle":"3"},{"first":-0.12,"def":3.53,"cycle":"3"},{"first":-0.48,"def":3.02,"cycle":"3"},{"first":-0.12,"def":2.36,"cycle":"3"},
{"first":-1.61,"def":5.53,"cycle":"4 or 5"},{"first":-0.82,"def":5.57,"cycle":"4 or 5"},{"first":-4.25,"def":5.09,"cycle":"4 or 5"},{"first":-3.86,"def":5.0,"cycle":"4 or 5"},{"first":-3.52,"def":4.9,"cycle":"4 or 5"},{"first":-4.77,"def":4.48,"cycle":"4 or 5"},{"first":-4.74,"def":4.48,"cycle":"4 or 5"},{"first":-4.66,"def":4.5,"cycle":"4 or 5"},{"first":-4.75,"def":4.19,"cycle":"4 or 5"},{"first":-4.81,"def":4.0,"cycle":"4 or 5"},{"first":-1.97,"def":3.24,"cycle":"4 or 5"},{"first":-4.68,"def":3.59,"cycle":"4 or 5"},{"first":-4.66,"def":3.16,"cycle":"4 or 5"},{"first":-4.84,"def":3.09,"cycle":"4 or 5"},{"first":-4.23,"def":3.16,"cycle":"4 or 5"},{"first":-4.74,"def":2.69,"cycle":"4 or 5"},{"first":-1.81,"def":2.97,"cycle":"4 or 5"},{"first":-2.42,"def":2.95,"cycle":"4 or 5"},{"first":-4.52,"def":3.33,"cycle":"4 or 5"},{"first":-4.7,"def":3.72,"cycle":"4 or 5"}
]},
"hconcat":[
{"vconcat":[
 {"width":1,"height":1,"data":{"values":[]},"mark":"point"},
 {"width":688,"height":537,
  "view":{"stroke":"#a0a0a0","strokeWidth":1},
  "layer":[
   {"layer":[
    {"data":{"name":"points"},
     "mark":{"type":"circle","size":22,"opacity":0.95},
     "encoding":{
      "x":{"field":"first","type":"quantitative","title":"First host mass (g)",
        "scale":{"domain":[-6.05,6.31],"nice":false,"zero":false},
        "axis":{"values":[-4,-1,2,5],"labelExpr":"datum.value == -4 ? '10⁻⁴' : datum.value == -1 ? '10⁻¹' : datum.value == 2 ? '10²' : '10⁵'","labelFontSize":17.5,"titleFontSize":24,"tickSize":6,"tickWidth":2.5,"domainWidth":1.5,"gridWidth":1.6,"labelPadding":6,"titlePadding":6,"labelFlush":false}},
      "y":{"field":"def","type":"quantitative","title":"Definitive host mass (g)",
        "scale":{"domain":[-1.69,7.57],"nice":false,"zero":false},
        "axis":{"values":[1,4,7],"labelExpr":"datum.value == 1 ? '10¹' : datum.value == 4 ? '10⁴' : '10⁷'","labelFontSize":17.5,"titleFontSize":24,"tickSize":6,"tickWidth":2.5,"domainWidth":1.5,"gridWidth":1.6,"labelPadding":4,"titlePadding":8,"labelFlush":false}},
      "color":{"field":"cycle","type":"nominal","scale":{"domain":["1","2","3","4 or 5"],"range":["#fff3b0","#fecc5c","#f28c36","#d9000f"]},"legend":null}}},
    {"data":{"name":"crosses"},
     "mark":{"type":"rule","strokeWidth":10},
     "encoding":{
      "x":{"field":"xlo","type":"quantitative","title":"First host mass (g)"},
      "x2":{"field":"xhi"},
      "y":{"field":"cy","type":"quantitative","title":"Definitive host mass (g)"},
      "color":{"field":"cycle","type":"nominal","legend":null}}},
    {"data":{"name":"crosses"},
     "mark":{"type":"rule","strokeWidth":10},
     "encoding":{
      "x":{"field":"cx","type":"quantitative","title":"First host mass (g)"},
      "y":{"field":"ylo","type":"quantitative","title":"Definitive host mass (g)"},
      "y2":{"field":"yhi"},
      "color":{"field":"cycle","type":"nominal","legend":null}}},
    {"data":{"name":"crosses"},
     "mark":{"type":"point","shape":"circle","filled":true,"size":740,"stroke":"#000000","strokeWidth":1.5,"opacity":1},
     "encoding":{
      "x":{"field":"cx","type":"quantitative","title":"First host mass (g)"},
      "y":{"field":"cy","type":"quantitative","title":"Definitive host mass (g)"},
      "fill":{"field":"cycle","type":"nominal","scale":{"domain":["1","2","3","4 or 5"],"range":["#fff3b0","#fecc5c","#f28c36","#d9000f"]},"legend":null}}},
    {"data":{"name":"crosses"},
     "mark":{"type":"text","fontSize":24,"font":"Liberation Sans","baseline":"middle","align":"center","dy":1,"color":"#000000"},
     "encoding":{
      "x":{"field":"cx","type":"quantitative","title":"First host mass (g)"},
      "y":{"field":"cy","type":"quantitative","title":"Definitive host mass (g)"},
      "text":{"field":"num"}}},
    {"data":{"name":"inset_area"},
     "mark":{"type":"rect","fill":"white","stroke":"#000000","strokeWidth":2},
     "encoding":{
      "x":{"field":"x1","type":"quantitative","title":"First host mass (g)"},
      "x2":{"field":"x2"},
      "y":{"field":"y1","type":"quantitative","title":"Definitive host mass (g)"},
      "y2":{"field":"y2"}}}
   ]},
   {"layer":[
    {"data":{"name":"igrid"},
     "mark":{"type":"rule","color":"#ebebeb","strokeWidth":1.5},
     "encoding":{
      "x":{"datum":0.4,"type":"quantitative","title":"Life-cycle length"},
      "x2":{"datum":4.6},
      "y":{"field":"g","type":"quantitative","title":"Spp. in database"}}},
    {"data":{"name":"bars"},
     "mark":{"type":"bar","width":40,"stroke":"#000000","strokeWidth":1.8},
     "encoding":{
      "x":{"field":"pos","type":"quantitative","title":"Life-cycle length",
        "scale":{"domain":[0.4,4.6],"range":[490,675],"nice":false,"zero":false},
        "axis":{"orient":"bottom","offset":-59,"zindex":1,"values":[1,2,3,4],"labelExpr":"datum.value == 4 ? '4 or 5' : datum.value","labelFontSize":10.5,"titleFontSize":14.5,"tickSize":5,"tickWidth":2,"domainWidth":1.5,"labelPadding":4,"titlePadding":3,"grid":false,"labelFlush":false}},
      "y":{"field":"n","type":"quantitative","title":"Spp. in database",
        "scale":{"domain":[0,670],"range":[478,375],"nice":false},
        "axis":{"orient":"left","offset":-490,"zindex":1,"values":[0,200,400,600],"grid":false,"labelFontSize":10.5,"titleFontSize":14.5,"tickSize":4,"tickWidth":2,"domainWidth":1.5,"labelPadding":3,"titlePadding":6,"labelFlush":false}},
      "color":{"field":"cycle","type":"nominal","legend":null}}},
    {"data":{"values":[{}]},
     "mark":{"type":"rect","filled":false,"stroke":"#333333","strokeWidth":1.5},
     "encoding":{
      "x":{"datum":0.4,"type":"quantitative","title":"Life-cycle length"},
      "x2":{"datum":4.6},
      "y":{"datum":0,"type":"quantitative","title":"Spp. in database"},
      "y2":{"datum":670}}}
   ]}
  ],
  "resolve":{"scale":{"x":"independent","y":"independent"},"axis":{"x":"independent","y":"independent"}}}
],"spacing":7},
{"vconcat":[
 {"width":237,"height":345,
  "view":{"stroke":"#8c8c8c","strokeWidth":3,"fill":"white"},
  "data":{"name":"box1"},
  "encoding":{
   "x":{"field":"indent","type":"quantitative","scale":{"domain":[-1.3,22.4],"nice":false,"zero":false},"axis":null},
   "y":{"field":"line","type":"quantitative","scale":{"domain":[-0.773,15.894],"nice":false,"zero":false,"reverse":true},"axis":null},
   "text":{"field":"text"}},
  "layer":[
   {"transform":[{"filter":"datum.kind == 'h'"}],"mark":{"type":"text","align":"left","baseline":"middle","font":"Lato","fontSize":17,"fontStyle":"italic","color":"#000000"}},
   {"transform":[{"filter":"datum.kind != 'h'"}],"mark":{"type":"text","align":"left","baseline":"middle","font":"Lato","fontSize":15.5,"color":"#000000"}}
  ]},
 {"width":237,"height":261,
  "view":{"stroke":"#8c8c8c","strokeWidth":3,"fill":"white"},
  "data":{"name":"box2"},
  "encoding":{
   "x":{"field":"indent","type":"quantitative","scale":{"domain":[-1.3,22.4],"nice":false,"zero":false},"axis":null},
   "y":{"field":"line","type":"quantitative","scale":{"domain":[-0.831,11.932],"nice":false,"zero":false,"reverse":true},"axis":null},
   "text":{"field":"text"}},
  "layer":[
   {"transform":[{"filter":"datum.kind == 'h'"}],"mark":{"type":"text","align":"left","baseline":"middle","font":"Lato","fontSize":17,"fontStyle":"italic","color":"#000000"}},
   {"transform":[{"filter":"datum.kind != 'h'"}],"mark":{"type":"text","align":"left","baseline":"middle","font":"Lato","fontSize":15.5,"color":"#000000"}}
  ]}
],"spacing":10}
],
"spacing":13
}
